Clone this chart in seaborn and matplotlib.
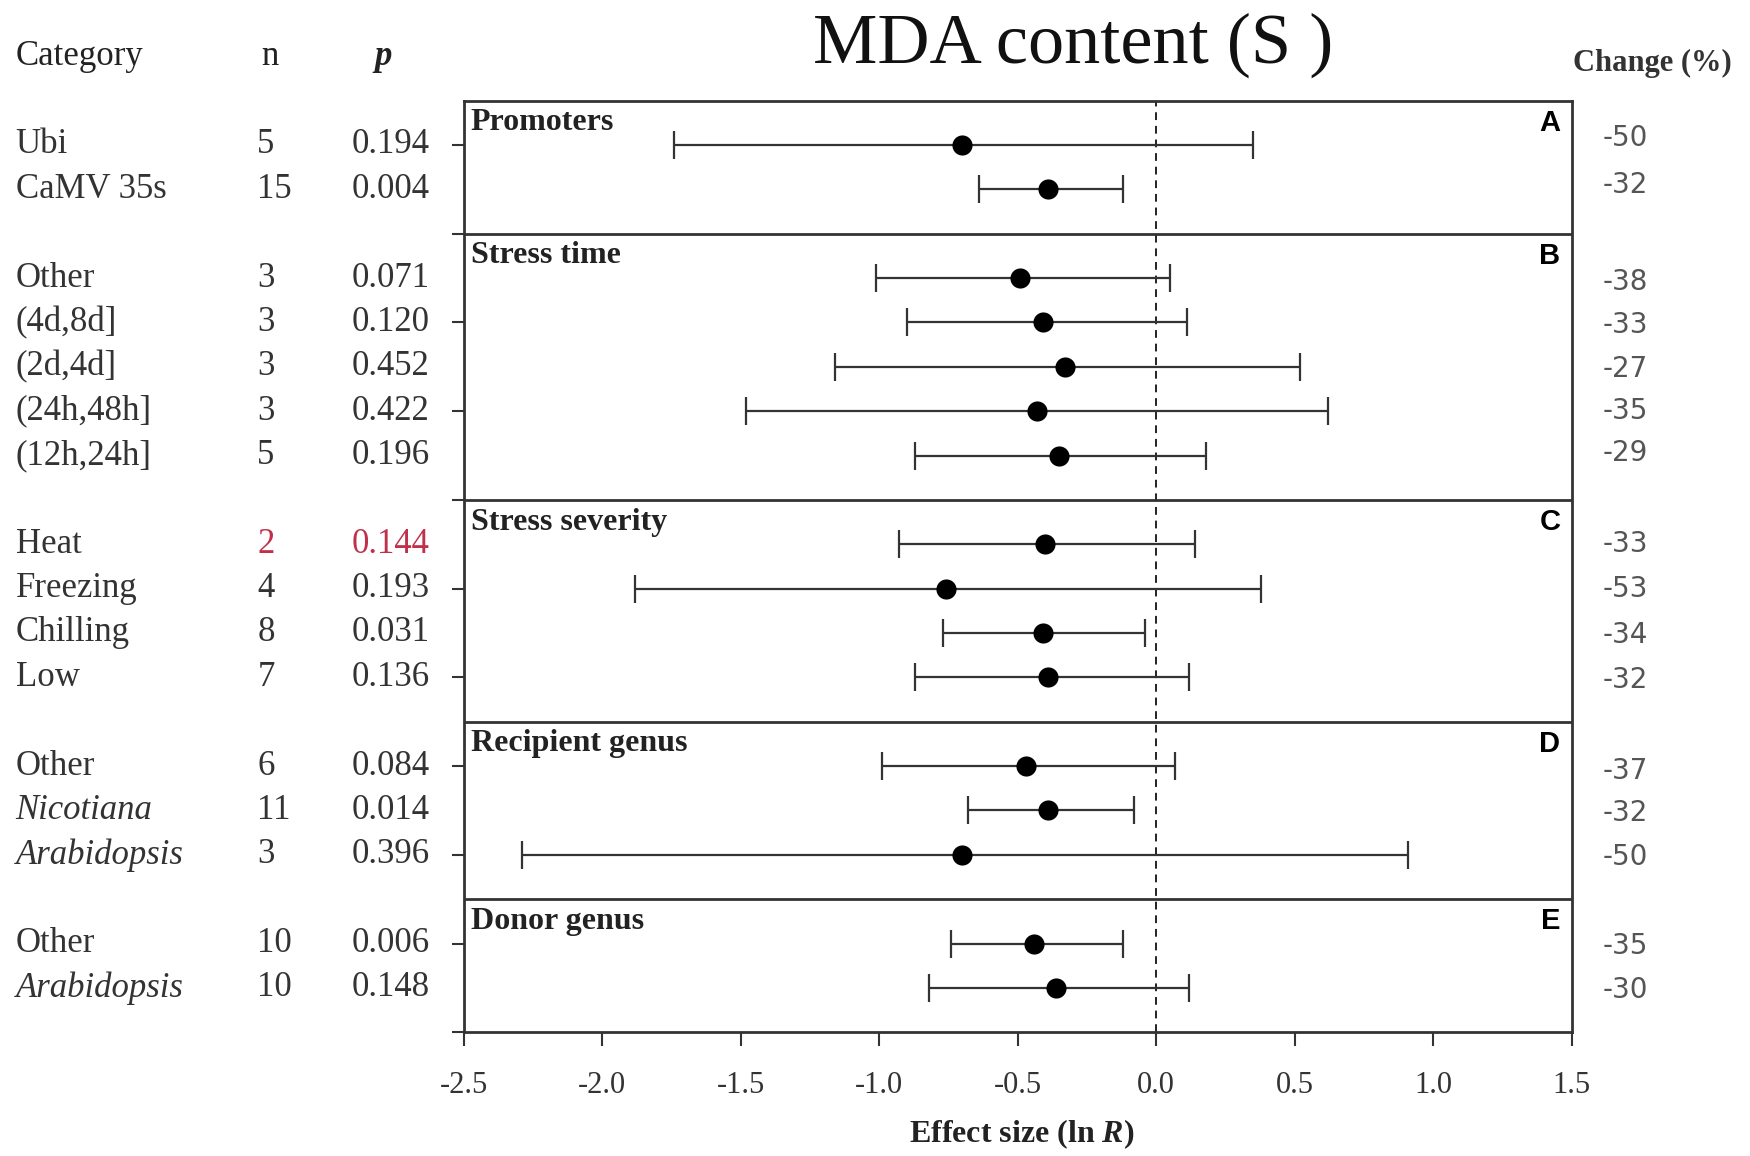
import matplotlib
matplotlib.use("Agg")
import matplotlib.pyplot as plt
import numpy as np
import pandas as pd
import seaborn as sns

# forest plot data, one entry per row, top to bottom
categories = ["Ubi", "CaMV 35s",
              "Other", "(4d,8d]", "(2d,4d]", "(24h,48h]", "(12h,24h]",
              "Heat", "Freezing", "Chilling", "Low",
              "Other", "Nicotiana", "Arabidopsis",
              "Other", "Arabidopsis"]
italic_rows = [False, False,
               False, False, False, False, False,
               False, False, False, False,
               False, True, True,
               False, True]
n_values = [5, 15, 3, 3, 3, 3, 5, 2, 4, 8, 7, 6, 11, 3, 10, 10]
p_values = ["0.194", "0.004", "0.071", "0.120", "0.452", "0.422", "0.196",
            "0.144", "0.193", "0.031", "0.136", "0.084", "0.014", "0.396",
            "0.006", "0.148"]
effect = [-0.70, -0.39, -0.49, -0.41, -0.33, -0.43, -0.35,
          -0.40, -0.76, -0.41, -0.39, -0.47, -0.39, -0.70, -0.44, -0.36]
ci_low = [-1.74, -0.64, -1.01, -0.90, -1.16, -1.48, -0.87,
          -0.93, -1.88, -0.77, -0.87, -0.99, -0.68, -2.29, -0.74, -0.82]
ci_high = [0.35, -0.12, 0.05, 0.11, 0.52, 0.62, 0.18,
           0.14, 0.38, -0.04, 0.12, 0.07, -0.08, 0.91, -0.12, 0.12]
change = ["-50", "-32", "-38", "-33", "-27", "-35", "-29",
          "-33", "-53", "-34", "-32", "-37", "-32", "-50", "-35", "-30"]
row_pos = [1, 2, 4, 5, 6, 7, 8, 10, 11, 12, 13, 15, 16, 17, 19, 20]
# the change column sits a little off the rows in the original
change_shift = [-0.15, -0.1, 0.1, 0.05, 0.05, 0.0, -0.05,
                0.0, 0.0, 0.05, 0.05, 0.1, 0.05, 0.05, 0.05, 0.05]

groups = ["Promoters", "Stress time", "Stress severity", "Recipient genus", "Donor genus"]
group_letters = ["A", "B", "C", "D", "E"]
group_top = [0, 3, 9, 14, 18]
x_ticks = [-2.5, -2.0, -1.5, -1.0, -0.5, 0.0, 0.5, 1.0, 1.5]

df = pd.DataFrame({"category": categories, "n": n_values, "p": p_values,
                   "effect": effect, "lo": ci_low, "hi": ci_high,
                   "change": change, "row": row_pos, "italic": italic_rows,
                   "shift": change_shift})

sns.set_theme(style="white")
serif = ["Liberation Serif", "DejaVu Serif"]
plt.rcParams["font.family"] = serif
plt.rcParams["mathtext.fontset"] = "custom"
plt.rcParams["mathtext.bfit"] = "Liberation Serif:bold:italic"
plt.rcParams["mathtext.it"] = "Liberation Serif:italic"
plt.rcParams["mathtext.rm"] = "Liberation Serif"

fig = plt.figure(figsize=(17.5, 11.56), dpi=100)
ax = fig.add_axes([0.265, 0.107, 0.633, 0.806])

txt = "#333333"
line_c = "#333333"

# error bars and points
ax.errorbar(df["effect"], df["row"],
            xerr=[df["effect"] - df["lo"], df["hi"] - df["effect"]],
            fmt="none", ecolor=line_c, elinewidth=1.6, capsize=10, capthick=1.6, zorder=2)
sns.scatterplot(data=df, x="effect", y="row", color="black", s=210,
                edgecolor="black", linewidth=0, ax=ax, zorder=3, legend=False)

ax.axvline(0, color="#222222", lw=1.4, ls=(0, (4, 3)), zorder=1)
for g in group_top[1:]:
    ax.axhline(g, color=line_c, lw=2.0, zorder=1)

ax.set_xlim(-2.5, 1.5)
ax.set_ylim(21, 0)
ax.set_xticks(x_ticks)
ax.set_xticklabels([f"{v:.1f}" for v in x_ticks], fontsize=22, color=txt)
ax.set_yticks(np.arange(1, 22, 2))
ax.set_yticklabels([])
ax.tick_params(axis="x", direction="out", length=10, width=1.5, color=line_c, pad=18, bottom=True)
ax.tick_params(axis="y", direction="out", length=9, width=1.5, color=line_c, left=True)
for s in ax.spines.values():
    s.set_color(line_c)
    s.set_linewidth(2.0)
ax.set_xlabel("")
ax.set_ylabel("")

# group titles and panel letters
for name, letter, top in zip(groups, group_letters, group_top):
    ax.text(-2.475, top + 0.5, name, fontsize=23, fontweight="bold", color="#222222",
            ha="left", va="center", family=serif)
    ax.text(0.99, top + 0.5, letter, transform=ax.get_yaxis_transform(),
            fontsize=21, fontweight="bold", family="Liberation Sans", color="black",
            ha="right", va="center")

# left table and right change column
to_fig = fig.transFigure.inverted()
for _, r in df.iterrows():
    y_fig = to_fig.transform(ax.transData.transform((0, r["row"])))[1]
    y_chg = to_fig.transform(ax.transData.transform((0, r["row"] + r["shift"])))[1]
    col = "#c0304a" if r["category"] == "Heat" else txt
    kw = dict(fontsize=25, va="center", family=serif)
    fig.text(0.009, y_fig, r["category"], color=txt,
             style="italic" if r["italic"] else "normal", **kw)
    fig.text(0.147, y_fig, str(r["n"]), color=col, **kw)
    fig.text(0.201, y_fig, r["p"], color=col, **kw)
    fig.text(0.916, y_chg, r["change"], color="#555555", fontsize=20,
             family="DejaVu Sans", va="center")

fig.text(0.009, 0.951, "Category", fontsize=25, color="#222222", va="center", family=serif)
fig.text(0.154, 0.951, "n", fontsize=25, color="#222222", va="center", ha="center", family=serif)
fig.text(0.219, 0.951, "p", fontsize=25, color="#222222", va="center", ha="center",
         style="italic", fontweight="bold", family=serif)
fig.text(0.944, 0.945, "Change (%)", fontsize=22, color="#333333", va="center",
         ha="center", fontweight="bold", family=serif)
fig.text(0.613, 0.961, "MDA content (S )", fontsize=52, color="#111111",
         va="center", ha="center", family=serif)
fig.text(0.584, 0.019, "Effect size (ln $\\mathbfit{R}$)", fontsize=23, color="#222222",
         va="center", ha="center", fontweight="bold", family=serif)

fig.savefig("out.png", dpi=100, facecolor="white")
